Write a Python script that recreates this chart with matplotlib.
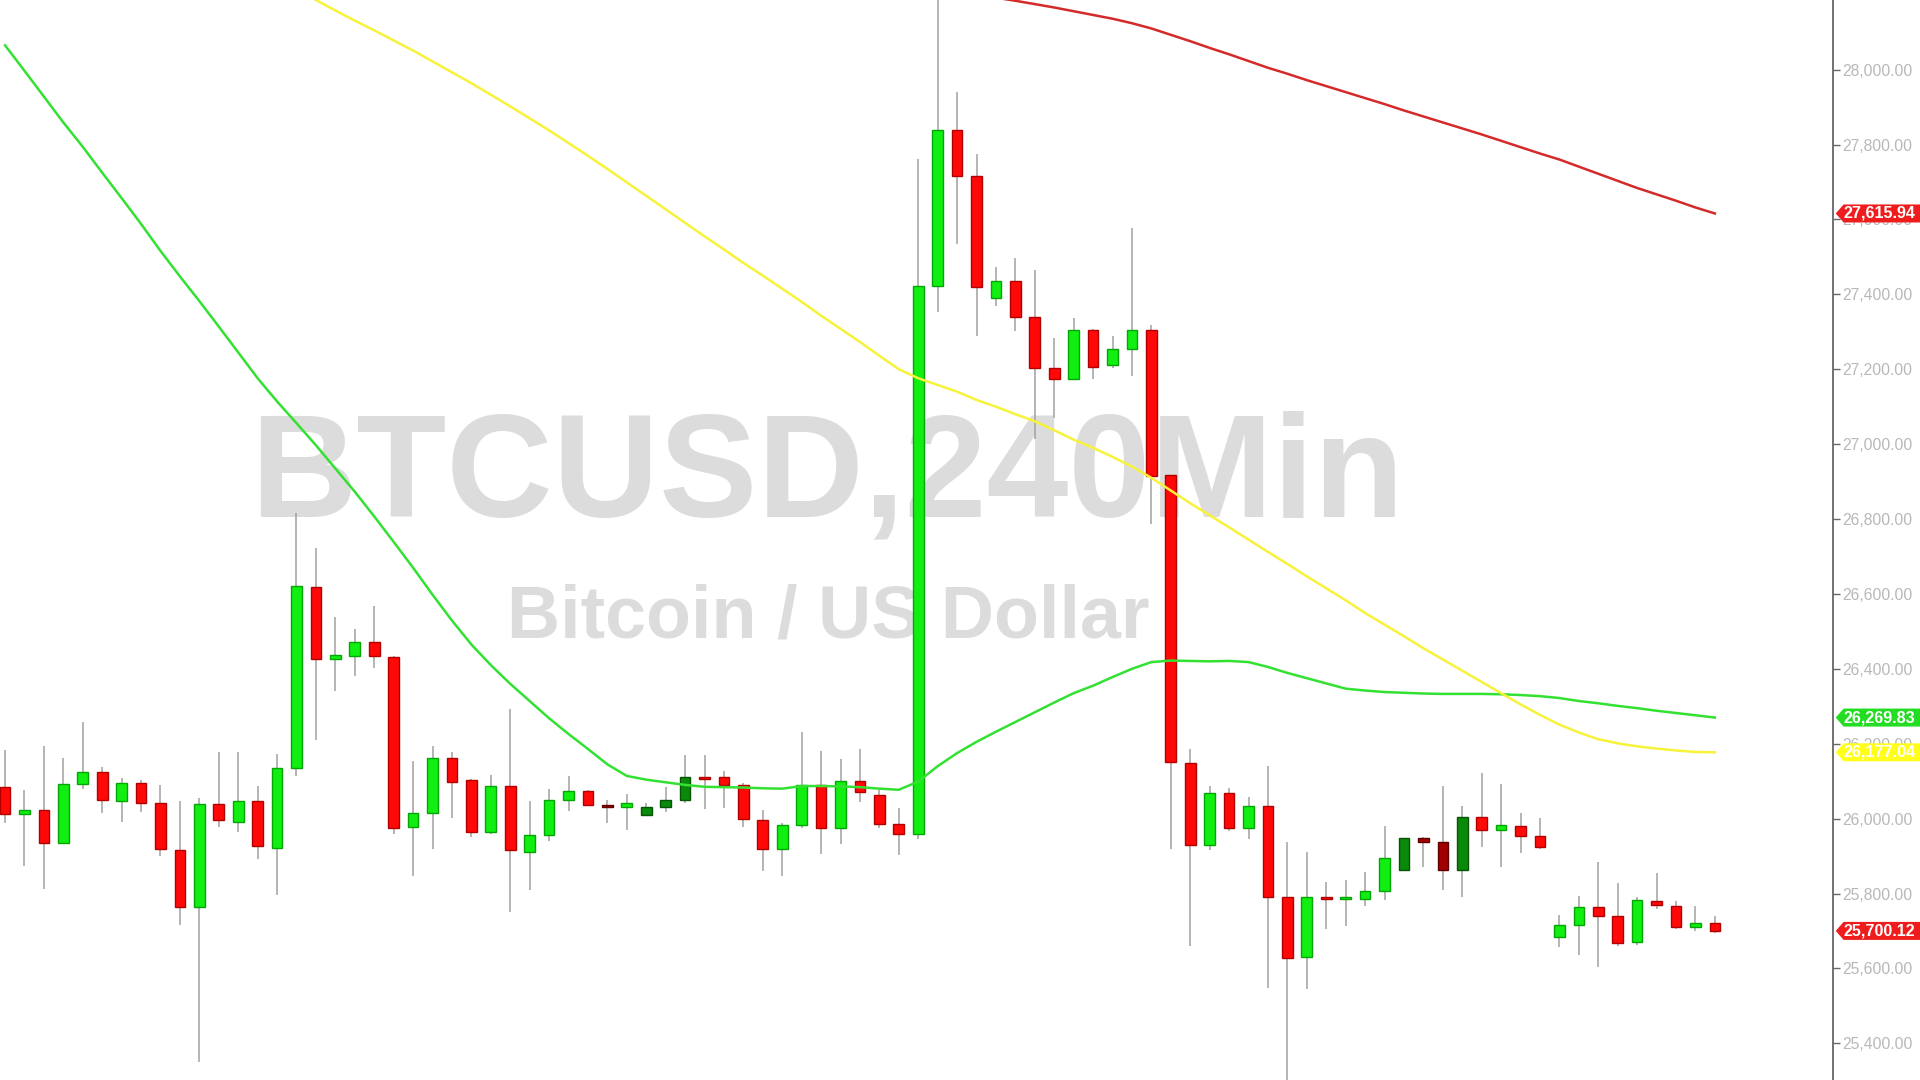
import matplotlib
matplotlib.use("Agg")
import matplotlib.pyplot as plt  # noqa: E402
import matplotlib.transforms as mtrans  # noqa: E402
from matplotlib.patches import Polygon  # noqa: E402
import numpy as np  # noqa: E402

# BTCUSD 240-Minuten-Kerzen
opens = [26084, 26012, 26023, 25936, 26092, 26124, 26046, 26095, 26041, 25917,
         25764, 26040, 25992, 26047, 25921, 26135, 26618, 26427, 26434, 26471,
         26431, 25977, 26015, 26162, 26103, 25964, 26088, 25912, 25956, 26050,
         26074, 26036, 26032, 26009, 26031, 26050, 26112, 26110, 26089, 25996,
         25918, 25984, 26089, 25975, 26100, 26063, 25985, 25958, 27423, 27838,
         27716, 27389, 27435, 27339, 27203, 27174, 27304, 27210, 27255, 27304,
         26917, 26148, 25930, 26068, 25975, 26033, 25792, 25630, 25792, 25786,
         25785, 25806, 25862, 25948, 25938, 25864, 26004, 25969, 25979, 25954,
         25683, 25717, 25765, 25739, 25670, 25781, 25767, 25710, 25721]
highs = [26182, 26077, 26195, 26162, 26258, 26139, 26108, 26104, 26090, 26048,
         26054, 26178, 26178, 26088, 26173, 26816, 26722, 26538, 26507, 26567,
         26433, 26153, 26194, 26178, 26107, 26117, 26293, 26046, 26079, 26114,
         26077, 26050, 26066, 26041, 26084, 26169, 26170, 26126, 26095, 26024,
         25988, 26231, 26181, 26159, 26187, 26077, 26028, 27762, 28230, 27941,
         27775, 27474, 27498, 27465, 27283, 27336, 27307, 27289, 27577, 27319,
         26917, 26187, 26088, 26082, 26059, 26141, 25937, 25911, 25831, 25837,
         25857, 25981, 25948, 25950, 26088, 26033, 26123, 26093, 26014, 26001,
         25742, 25794, 25883, 25828, 25792, 25856, 25779, 25766, 25739]
lows = [25988, 25874, 25812, 25932, 26079, 26015, 25990, 26018, 25899, 25717,
        25350, 25977, 25963, 25892, 25795, 26113, 26211, 26340, 26380, 26402,
        25960, 25848, 25920, 26001, 25952, 25959, 25750, 25810, 25941, 26019,
        26033, 25988, 25970, 26006, 26017, 26041, 26027, 26028, 25977, 25859,
        25848, 25975, 25905, 25933, 26045, 25974, 25902, 25945, 27354, 27534,
        27289, 27369, 27303, 27015, 27069, 27173, 27173, 27203, 27183, 26787,
        25920, 25659, 25917, 25966, 25946, 25548, 25290, 25545, 25705, 25712,
        25766, 25783, 25859, 25872, 25810, 25790, 25923, 25870, 25908, 25920,
        25656, 25637, 25604, 25660, 25663, 25758, 25705, 25699, 25695]
closes = [26012, 26023, 25936, 26092, 26124, 26049, 26094, 26043, 25918, 25764,
          26040, 25995, 26047, 25926, 26135, 26620, 26427, 26437, 26471, 26434,
          25975, 26015, 26162, 26098, 25963, 26088, 25917, 25956, 26050, 26074,
          26037, 26032, 26041, 26031, 26050, 26111, 26110, 26089, 25999, 25918,
          25983, 26089, 25975, 26100, 26070, 25985, 25958, 27423, 27838, 27717,
          27419, 27435, 27339, 27202, 27173, 27304, 27207, 27255, 27304, 26916,
          26150, 25930, 26068, 25975, 26033, 25792, 25628, 25792, 25788, 25788,
          25806, 25895, 25948, 25938, 25864, 26004, 25969, 25983, 25953, 25923,
          25717, 25765, 25739, 25668, 25783, 25768, 25710, 25721, 25700.12]
# Kerzen, die im Original dunkler eingefärbt sind
dunkle_kerzen = [31, 33, 34, 35, 72, 73, 74, 75]

# gleitende Durchschnitte (Startindex + Werte)
ma_gruen_start = 0
ma_gruen = [28065, 27997, 27928, 27859, 27794, 27725, 27657, 27588, 27516, 27448,
            27382, 27314, 27245, 27176, 27114, 27056, 26997, 26935, 26873, 26807,
            26739, 26670, 26598, 26529, 26465, 26410, 26360, 26314, 26268, 26226,
            26186, 26145, 26114, 26104, 26097, 26090, 26085, 26084, 26083, 26081,
            26080, 26087, 26087, 26086, 26084, 26080, 26077, 26099, 26140, 26175,
            26205, 26232, 26258, 26284, 26310, 26335, 26355, 26378, 26400, 26418,
            26422, 26421, 26420, 26421, 26418, 26405, 26389, 26375, 26361, 26347,
            26342, 26338, 26336, 26334, 26333, 26333, 26333, 26332, 26330, 26327,
            26322, 26314, 26308, 26301, 26295, 26288, 26282, 26276, 26269.83]
ma_gelb_start = 15
ma_gelb = [28215, 28186, 28158, 28131, 28105, 28078, 28051, 28022, 27993, 27964,
           27933, 27902, 27870, 27838, 27804, 27770, 27735, 27699, 27663, 27627,
           27591, 27555, 27520, 27484, 27450, 27415, 27380, 27343, 27308, 27273,
           27236, 27200, 27176, 27158, 27140, 27118, 27100, 27080, 27061, 27037,
           27012, 26990, 26966, 26940, 26910, 26876, 26842, 26810, 26778, 26745,
           26712, 26680, 26647, 26615, 26583, 26549, 26518, 26487, 26455, 26425,
           26395, 26365, 26335, 26305, 26277, 26251, 26230, 26212, 26201, 26193,
           26187, 26182, 26178, 26177.04]
ma_rot_start = 51
ma_rot = [28192, 28184, 28175, 28166, 28156, 28146, 28136, 28124, 28110, 28093,
          28076, 28058, 28041, 28023, 28005, 27989, 27972, 27956, 27940, 27924,
          27908, 27891, 27875, 27859, 27843, 27827, 27810, 27793, 27776, 27760,
          27741, 27722, 27703, 27684, 27667, 27650, 27632, 27615.94]

y_ticks = list(range(25400, 28001, 200))

GRUEN = "#11ee11"
ROT = "#ff0808"

fig = plt.figure(figsize=(19.2, 10.8), dpi=100)
ax = fig.add_axes([0, 0, 1833 / 1920, 1])
ax.set_xlim(-0.26, 94.08)
ax.set_ylim(25302, 28186)

n = len(opens)
x = np.arange(n)
o = np.array(opens, dtype=float)
c = np.array(closes, dtype=float)

# Dochte
ax.vlines(x, lows, highs, color="#a0a0a0", linewidth=1.1, zorder=2)

# Körper
for i in range(n):
    steigt = c[i] >= o[i]
    if i in dunkle_kerzen:
        fc = "#0a8a0a" if steigt else "#a00000"
        ec = "#055505" if steigt else "#600000"
    else:
        fc = GRUEN if steigt else ROT
        ec = "#06a506" if steigt else "#b00000"
    h = c[i] - o[i]
    if abs(h) < 6:
        h = 6 if steigt else -6
    ax.bar(i, h, bottom=o[i], width=0.55, color=fc, edgecolor=ec,
           linewidth=1.0, zorder=3)

# gleitende Durchschnitte
ax.plot(np.arange(len(ma_gruen)) + ma_gruen_start, ma_gruen, color="#33e133",
        linewidth=1.8, zorder=4)
ax.plot(np.arange(len(ma_gelb)) + ma_gelb_start, ma_gelb, color="#f7f23a",
        linewidth=1.8, zorder=4)
ax.plot(np.arange(len(ma_rot)) + ma_rot_start, ma_rot, color="#d42a2a",
        linewidth=1.8, zorder=4)

# Wasserzeichen
ax.text(0.451, 0.557, "BTCUSD,240Min", transform=ax.transAxes,
        ha="center", va="center", fontsize=106, fontweight="bold",
        family="Liberation Sans", color="#dcdcdc", zorder=1)
ax.text(0.452, 0.428, "Bitcoin / US Dollar", transform=ax.transAxes,
        ha="center", va="center", fontsize=53, fontweight="bold",
        family="Liberation Sans", color="#dcdcdc", zorder=1)

# Achsen
for s in ["top", "left", "bottom"]:
    ax.spines[s].set_visible(False)
ax.spines["right"].set_color("#666666")
ax.spines["right"].set_linewidth(1.3)
ax.set_xticks([])
ax.yaxis.tick_right()
ax.set_yticks(y_ticks)
ax.set_yticklabels([f"{v:,.2f}" for v in y_ticks])
ax.tick_params(axis="y", direction="out", length=5, width=1, color="#666666",
               labelcolor="#b8b8b8", labelsize=11.3, pad=2)
for lab in ax.get_yticklabels():
    lab.set_family("Liberation Sans")

# Preisschilder rechts
trans = mtrans.blended_transform_factory(ax.transAxes, ax.transData)
halb = 9 * (28186 - 25302) / 1080
schilder = [
    (ma_rot[-1], "#ee1c1c"),
    (ma_gruen[-1], "#22dd22"),
    (ma_gelb[-1], "#ffff1a"),
    (closes[-1], "#ee1c1c"),
]
for wert, farbe in schilder:
    poly = Polygon([(1.0015, wert), (1.0058, wert + halb), (1.06, wert + halb),
                    (1.06, wert - halb), (1.0058, wert - halb)],
                   closed=True, transform=trans, facecolor=farbe,
                   edgecolor="none", clip_on=False, zorder=6)
    ax.add_patch(poly)
    ax.text(1.0055, wert, f"{wert:,.2f}", transform=trans, ha="left",
            va="center", fontsize=11.6, fontweight="bold", color="white",
            family="Liberation Sans", clip_on=False, zorder=7)

fig.savefig("out.png", dpi=100)
